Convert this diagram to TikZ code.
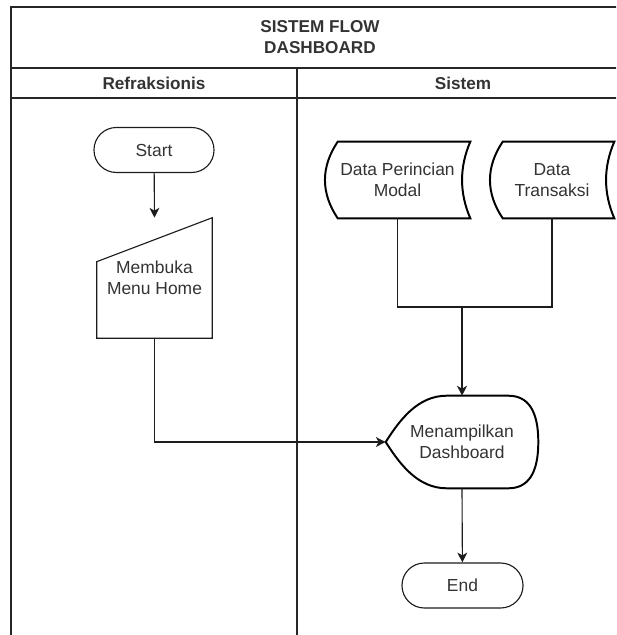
\documentclass[tikz,border=0pt]{standalone}
\usepackage{fontspec}
\setmainfont{Liberation Sans}
\usetikzlibrary{arrows.meta,positioning,calc}
\definecolor{sfline}{HTML}{1C1C1C}
\definecolor{sftext}{HTML}{333333}
\definecolor{sfframe}{HTML}{262626}

\begin{document}
\begin{tikzpicture}[
  x=0.025cm, y=-0.025cm,
  font=\fontsize{12.4}{14.9}\selectfont,
  >={Stealth[length=7pt,width=7pt,inset=2pt]},
  lane/.style={draw=sfframe, line width=1.1pt},
  head/.style={font=\fontsize{12.2}{14.9}\selectfont\bfseries, text=sftext,
    align=center},
  term/.style={draw=sfline, line width=0.8pt, rounded corners=0.56cm,
    minimum width=3cm, minimum height=1.125cm, text=sftext},
  boxtext/.style={inner sep=0pt, align=center, text=sftext},
  outline/.style={draw=sfline, line width=0.8pt},
  boldline/.style={draw=black, line width=1.4pt},
  flow/.style={draw=sfline, line width=0.8pt, ->}
]
\useasboundingbox (0,0) rectangle (616,635);
\clip (0,0) rectangle (616,635);

\draw[lane] (11,7) rectangle (629,700);
\draw[lane] (11,68) -- (629,68);
\draw[lane] (11,98) -- (629,98);
\draw[lane] (297,68) -- (297,700);

\node[head] (title) at (320,37) {SISTEM FLOW\\DASHBOARD};
\node[head] (laneA) at (154,83) {Refraksionis};
\node[head] (laneB) at (463,83) {Sistem};

\node[term] (start) at (154,150) {Start};
\node[boxtext, minimum width=2.875cm, minimum height=3cm] (menu) at (154.5,278)
  {Membuka\\Menu Home};
\draw[outline] (menu.south west) -- (menu.south east) -- (menu.north east)
  -- ($(menu.north west)+(0,44)$) -- cycle;

\node[boxtext, minimum width=3.625cm, minimum height=1.9cm] (modal) at (397.5,180)
  {Data Perincian\\Modal};
\node[boxtext, minimum width=3.1cm, minimum height=1.9cm] (trans) at (552,180)
  {Data\\Transaksi};
\foreach \d in {modal,trans}
  \draw[boldline] ($(\d.north west)+(13,0)$) -- (\d.north east)
    .. controls ($(\d.east)+(-11,-13)$) and ($(\d.east)+(-11,13)$) .. (\d.south east)
    -- ($(\d.south west)+(13,0)$)
    .. controls ($(\d.west)+(-4,13)$) and ($(\d.west)+(-4,-13)$) .. cycle;

\node[boxtext, minimum width=3.8cm, minimum height=2.3cm] (show) at (462,442)
  {Menampilkan\\Dashboard};
\draw[boldline] (show.west)
  .. controls ($(show.west)+(14,-22)$) and ($(show.north west)+(32,0)$)
  .. ($(show.north west)+(61,0)$) -- ($(show.north east)+(-30,0)$)
  .. controls ($(show.north east)+(-10,0)$) and ($(show.east)+(0,-31)$) .. (show.east)
  .. controls ($(show.east)+(0,31)$) and ($(show.south east)+(-10,0)$)
  .. ($(show.south east)+(-30,0)$) -- ($(show.south west)+(61,0)$)
  .. controls ($(show.south west)+(32,0)$) and ($(show.west)+(14,22)$) .. cycle;

\node[term, minimum width=3.025cm] (finish) at (462.5,585.5) {End};

\coordinate (merge) at (462,307);

\draw[flow] (start) -- (menu.north);
\draw[flow] (menu.south) |- (show.west);
\draw[outline] (modal.south) |- (merge) -| (trans.south);
\draw[flow, line width=1.4pt] (merge) -- (show.north);
\draw[flow] (show.south) -- (finish);

\end{tikzpicture}
\end{document}
